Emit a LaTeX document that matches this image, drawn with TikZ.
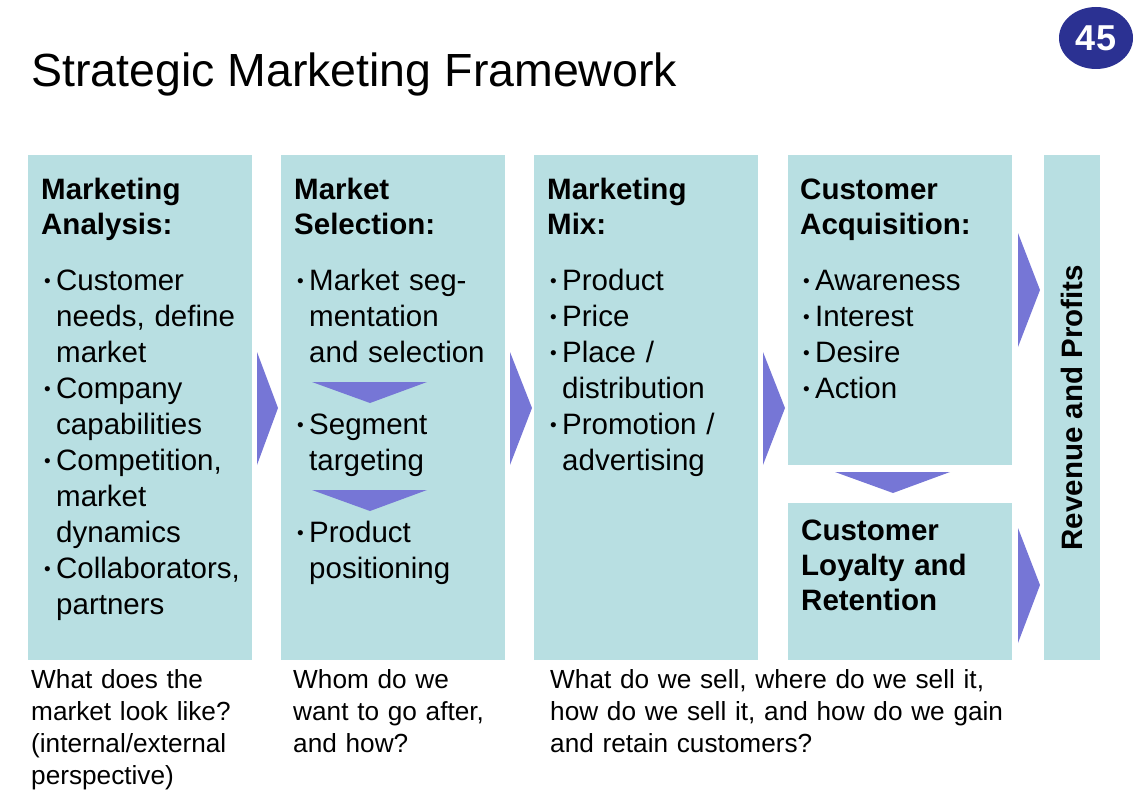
\documentclass[tikz,border=0pt]{standalone}
\usepackage{fontspec}
\setmainfont{Liberation Sans}
\usepackage{xcolor}
\usepackage{tikz}
\usetikzlibrary{arrows,shapes,backgrounds,calc}

\definecolor{boxcyan}{RGB}{184,223,226}
\definecolor{flowblue}{RGB}{118,118,214}
\definecolor{badgeblue}{RGB}{43,49,146}

\newcommand{\nl}{\hfil\break}
\newcommand{\bitem}[1]{\noindent\hangindent=12pt\hangafter=1%
  \makebox[12pt][l]{\raisebox{2.3pt}{\fontsize{19}{19}\selectfont\textbullet}}#1\par}

\begin{document}
\begin{tikzpicture}[x=1pt, y=-1pt,
                box/.style={fill=boxcyan, draw=none, anchor=north west, minimum width=224pt, inner sep=0pt},
                head/.style={anchor=base west, inner sep=0pt, text width=210pt, align=left,
                  font=\bfseries\fontsize{29.5}{35}\selectfont},
                items/.style={anchor=base west, inner sep=0pt, text width=215pt,
                  font=\fontsize{29.5}{36}\selectfont},
                caption/.style={anchor=base west, inner sep=0pt, text width=460pt, align=left,
                  font=\fontsize{26.2}{32}\selectfont},
                flow/.style={fill=flowblue}]
		\useasboundingbox (0,0) rectangle (1144,800);
		\begin{scope}
			\node [anchor=base west, inner sep=0pt, font=\fontsize{46.5}{46.5}\selectfont] (title) at (31,87) {Strategic Marketing Framework};
			\node [ellipse, fill=badgeblue, minimum width=74pt, minimum height=62pt, inner sep=0pt,
			       text=white, font=\bfseries\fontsize{36}{36}\selectfont] (badge) at (1096,38) {45};

			\node [box, minimum height=505pt] (ana) at (28,155) {};
			\node [box, minimum height=505pt] (sel) at (281,155) {};
			\node [box, minimum height=505pt] (mix) at (534,155) {};
			\node [box, minimum height=310pt] (acq) at (788,155) {};
			\node [box, minimum height=157pt] (loy) at (788,503) {};
			\node [box, minimum width=56pt, minimum height=505pt] (rev) at (1044,155) {};

			\node [head] (anahead) at (41,199) {Marketing\\Analysis:};
			\node [head] (selhead) at (294,199) {Market\\Selection:};
			\node [head] (mixhead) at (547,199) {Marketing\\Mix:};
			\node [head] (acqhead) at (800,199) {Customer\\Acquisition:};
			\node [head] (loyhead) at (801,540) {Customer\\Loyalty and\\Retention};
			\node [rotate=90, inner sep=0pt, font=\bfseries\fontsize{29.5}{35}\selectfont] (revtext) at (rev.center) {Revenue and Profits};

			\node [items] (anaitems) at (44,290) {\bitem{Customer\nl needs, define\nl market}\bitem{Company\nl capabilities}\bitem{Competition,\nl market\nl dynamics}\bitem{Collaborators,\nl partners}};
			\node [items] (segitems) at (297,290) {\bitem{Market seg-\nl mentation\nl and selection}};
			\node [items] (tgtitems) at (297,434) {\bitem{Segment\nl targeting}};
			\node [items] (positems) at (297,542) {\bitem{Product\nl positioning}};
			\node [items] (mixitems) at (550,290) {\bitem{Product}\bitem{Price}\bitem{Place /\nl distribution}\bitem{Promotion /\nl advertising}};
			\node [items] (acqitems) at (803,290) {\bitem{Awareness}\bitem{Interest}\bitem{Desire}\bitem{Action}};

			\node [caption] (anacap) at (31,688) {What does the\\market look like?\\(internal/external\\perspective)};
			\node [caption] (selcap) at (293,688) {Whom do we\\want to go after,\\and how?};
			\node [caption] (mixcap) at (550,688) {What do we sell, where do we sell it,\\how do we sell it, and how do we gain\\and retain customers?};

			\fill [flow] (257,352) -- (278,408) -- (257,465) -- cycle;
			\fill [flow] (510,352) -- (532,408) -- (510,465) -- cycle;
			\fill [flow] (763,352) -- (785,408) -- (763,465) -- cycle;
			\fill [flow] (1018,233) -- (1040,290) -- (1018,347) -- cycle;
			\fill [flow] (1018,528) -- (1040,585) -- (1018,643) -- cycle;
			\fill [flow] (312,382) -- (427,382) -- (370,403) -- cycle;
			\fill [flow] (312,490) -- (427,490) -- (370,511) -- cycle;
			\fill [flow] (835,472) -- (950,472) -- (893,493) -- cycle;
		\end{scope}
		\end{tikzpicture}
\end{document}
